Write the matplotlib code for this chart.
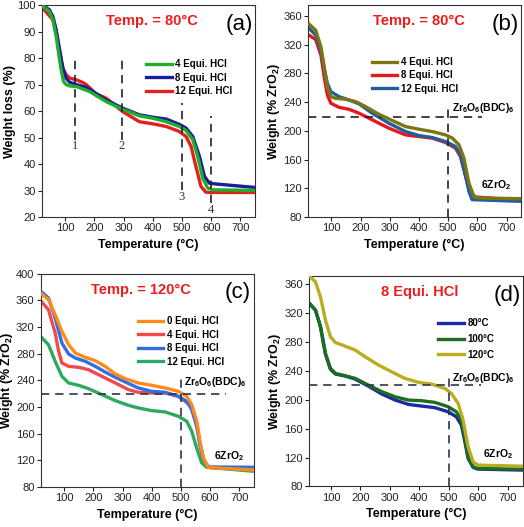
import matplotlib
matplotlib.use("Agg")
import matplotlib.pyplot as plt

plt.rcParams["font.family"] = ["Liberation Sans", "DejaVu Sans"]
plt.rcParams["mathtext.fontset"] = "custom"
plt.rcParams["mathtext.rm"] = "Liberation Sans"
plt.rcParams["mathtext.bf"] = "Liberation Sans:bold"

# ---- panel (a): weight loss, 80 C ----
a4_T = [22, 46, 58, 69, 81, 86, 94, 103, 115, 138, 183, 240, 297, 354, 400, 446,
        491, 514, 537, 554, 571, 588, 605, 750]
a4_w = [99.8, 97.5, 94.4, 88, 79, 75.5, 71.2, 70, 69.5, 69.3, 67.4, 63.6, 60.7,
        58.2, 57.3, 56, 54.2, 52.7, 49.2, 42.9, 34.7, 31, 30.3, 30.1]
a8_T = [22, 46, 58, 69, 81, 92, 103, 115, 126, 138, 172, 240, 297, 354, 400, 446,
        491, 514, 537, 560, 577, 594, 617, 750]
a8_w = [100, 98.2, 95.6, 90.6, 83, 76, 72.4, 70.9, 70.5, 70, 69, 64.2, 61.1, 58.6,
        57.7, 57, 55, 53.6, 50.4, 42.9, 35.4, 32.8, 32.5, 31.2]
a12_T = [23, 58, 69, 81, 92, 103, 115, 138, 160, 172, 206, 240, 297, 354, 400,
         446, 491, 514, 531, 548, 565, 582, 600, 750]
a12_w = [98.8, 94.4, 89.3, 81.8, 76.2, 73.7, 72.5, 71.8, 70.8, 70, 66.5, 64.9,
         59.8, 56, 55.2, 54.2, 52.3, 50.4, 46.7, 39, 31.6, 29.4, 29.3, 29.3]

# ---- panel (b): weight vs ZrO2, 80 C ----
b4_T = [24, 46, 64, 75, 86, 98, 115, 149, 183, 217, 263, 309, 354, 400, 446, 491,
        514, 537, 554, 571, 588, 605, 750]
b4_w = [348.4, 340, 317, 289, 261.5, 247.6, 245.3, 244, 240.7, 233.8, 223, 214.3,
        206, 202.3, 199, 194.4, 190, 180.6, 162, 127.4, 109, 106.6, 105.7]
b8_T = [24, 46, 64, 75, 86, 98, 126, 160, 195, 240, 297, 354, 400, 446, 491, 525,
        542, 560, 577, 594, 750]
b8_w = [333, 327, 305.4, 275.4, 250, 238.4, 232.8, 230, 224.5, 215.3, 203.7,
        194.4, 192.1, 189.8, 183.8, 176, 164.4, 136.6, 113.5, 108, 103.4]
b12_T = [24, 46, 64, 75, 86, 98, 126, 160, 195, 240, 297, 354, 400, 446, 491, 525,
         542, 560, 571, 582, 750]
b12_w = [342.4, 333.2, 312.4, 287, 266, 254.6, 247.6, 243, 237.5, 224.5, 210.6,
         199, 193.5, 190.7, 185.2, 178.3, 166.7, 136.6, 115.8, 104.3, 102]

# ---- panel (c): weight vs ZrO2, 120 C ----
c0_T = [24, 46, 69, 92, 115, 138, 172, 206, 240, 275, 309, 354, 400, 446, 491, 520,
        537, 554, 565, 577, 594, 617, 750]
c0_w = [369, 361, 338.5, 313.5, 293.5, 281, 274.5, 269.5, 261, 249.5, 242.5, 236,
        232.5, 228.5, 223.5, 216, 203.5, 178.5, 148.5, 123.5, 109.5, 108.5, 105.5]
c4_T = [24, 46, 69, 81, 92, 115, 149, 183, 229, 275, 320, 354, 400, 446, 491, 537,
        554, 565, 577, 594, 750]
c4_w = [357, 346, 311, 283.5, 266, 261, 259.5, 256, 246, 236, 226, 222, 221, 221,
        216, 201, 176, 146, 122.5, 109.5, 106]
c8_T = [24, 46, 69, 92, 115, 138, 172, 206, 240, 275, 309, 354, 400, 446, 491, 520,
        537, 554, 565, 577, 594, 750]
c8_w = [372, 363.5, 333.5, 296, 279.5, 273.5, 268.5, 261, 252.5, 244.5, 237.5,
        228.5, 223.5, 222, 216, 208.5, 196, 171, 143.5, 121, 110, 109.5]
c12_T = [24, 46, 69, 92, 115, 149, 183, 229, 275, 320, 354, 400, 446, 491, 520, 537,
         554, 571, 588, 750]
c12_w = [303.5, 293.5, 268.5, 246, 236, 232.5, 227.5, 218.5, 209.5, 202.5, 198.5,
         194.5, 192.5, 186, 178.5, 163.5, 138.5, 116, 109.5, 103.5]

# ---- panel (d): 8 Equi. HCl at three temperatures ----
d120_T = [27, 47, 64, 81, 98, 115, 149, 182, 216, 261, 306, 351, 397, 442, 487, 509,
          532, 549, 566, 583, 599, 750]
d120_w = [371, 363, 342.5, 310, 287, 279, 274, 268.7, 259.4, 248, 238.7, 229.5, 224,
          221.6, 215.6, 208.7, 195, 171.8, 135, 114, 109.5, 108]
d100_T = [27, 47, 64, 81, 98, 115, 149, 182, 227, 273, 318, 363, 408, 453, 498, 526,
          543, 554, 566, 583, 599, 750]
d100_w = [333, 324, 301, 264, 243.3, 236.4, 233, 229.5, 220.2, 211, 204, 199.5,
          198.6, 196.3, 190.3, 183.3, 171.8, 148.7, 121, 107.2, 105, 104]
d80_w = [333, 324, 301, 263, 242, 235.5, 232.7, 228.5, 218.8, 207.8, 199.5, 193.5,
         191.2, 189, 183.3, 176.4, 165, 144, 118.8, 106.3, 104, 102.6]

LW = 2.4
DASH = (0, (5, 3.5))
YLAB2 = "Weight (% ZrO$_\\mathbf{2}$)"
ZR = "Zr$_\\mathbf{6}$O$_\\mathbf{6}$(BDC)$_\\mathbf{6}$"
ZRO2 = "6ZrO$_\\mathbf{2}$"

fig = plt.figure(figsize=(5.24, 5.27), dpi=100)
axa = fig.add_axes([0.080, 0.588, 0.4065, 0.4023])
axb = fig.add_axes([0.588, 0.588, 0.4065, 0.4023])
axc = fig.add_axes([0.078, 0.076, 0.4065, 0.4047])
axd = fig.add_axes([0.5897, 0.077, 0.408, 0.399])


def style(ax, ylim, yticks, ylabel, title, tag, title_x=0.515):
    ax.set_xlim(20, 750)
    ax.set_ylim(*ylim)
    ax.set_xticks(range(100, 701, 100))
    ax.set_yticks(yticks)
    ax.tick_params(direction="out", length=3, width=0.8, labelsize=8,
                   colors="#222222", pad=1.5)
    for s in ax.spines.values():
        s.set_linewidth(0.8)
        s.set_color("#333333")
    ax.set_xlabel("Temperature (°C)", fontsize=9, fontweight="bold", labelpad=4)
    ax.set_ylabel(ylabel, fontsize=9, fontweight="bold", labelpad=1)
    ax.text(title_x, 0.925, title, transform=ax.transAxes, ha="center",
            va="center", color="#ee1c1c", fontsize=10.5, fontweight="bold")
    ax.text(0.925, 0.91, tag, transform=ax.transAxes, ha="center", va="center",
            fontsize=16)


def legend(ax, x, y, handles=None, labels=None, spacing=0.35):
    if handles is None:
        handles, labels = ax.get_legend_handles_labels()
    ax.legend(handles, labels, loc="upper left", bbox_to_anchor=(x, y),
              frameon=False, handlelength=2.6, handletextpad=0.4,
              labelspacing=spacing, borderpad=0, borderaxespad=0,
              prop={"size": 7, "weight": "bold"})


# (a)
axa.plot(a4_T, a4_w, color="#1fae2a", lw=LW, label="4 Equi. HCl", zorder=3)
axa.plot(a8_T, a8_w, color="#1a1e9c", lw=LW, label="8 Equi. HCl", zorder=2)
axa.plot(a12_T, a12_w, color="#e3201f", lw=LW, label="12 Equi. HCl", zorder=1)
for t, y0, y1, ly, lab in [(135, 49.2, 81.2, 47, "1"), (294, 49.2, 81.2, 47, "2"),
                           (500, 30.3, 63, 27.5, "3"), (600, 25.3, 58, 22.8, "4")]:
    axa.plot([t, t], [y0, y1], color="#222222", lw=1.2, ls=DASH, zorder=4)
    axa.text(t, ly, lab, ha="center", va="center", fontsize=9,
             family=["Liberation Serif"], color="#333333")
style(axa, (20, 100), range(20, 101, 10), "Weight loss (%)", "Temp. = 80°C", "(a)")
legend(axa, 0.49, 0.745)

# (b)
axb.plot(b4_T, b4_w, color="#7d7511", lw=LW, label="4 Equi. HCl", zorder=3)
axb.plot(b8_T, b8_w, color="#e8161e", lw=LW, label="8 Equi. HCl", zorder=1)
axb.plot(b12_T, b12_w, color="#1f5f9c", lw=LW, label="12 Equi. HCl", zorder=2)
axb.plot([20, 616], [220, 220], color="#222222", lw=1.2, ls=DASH)
axb.plot([500, 500], [80, 236], color="#222222", lw=1.2, ls=DASH)
axb.text(512, 232, ZR, fontsize=7.5, fontweight="bold", va="center")
axb.text(611, 125, ZRO2, fontsize=7.5, fontweight="bold", va="center")
style(axb, (80, 375), range(80, 361, 40), YLAB2, "Temp. = 80°C", "(b)", 0.52)
legend(axb, 0.3, 0.755)

# (c)
axc.plot(c0_T, c0_w, color="#ff8a1c", lw=LW, label="0 Equi. HCl", zorder=4)
axc.plot(c4_T, c4_w, color="#f04a4a", lw=LW, label="4 Equi. HCl", zorder=2)
axc.plot(c8_T, c8_w, color="#2f6fe0", lw=LW, label="8 Equi. HCl", zorder=3)
axc.plot(c12_T, c12_w, color="#2fa860", lw=LW, label="12 Equi. HCl", zorder=1)
axc.plot([20, 656], [220, 220], color="#2e3550", lw=1.2, ls=DASH, zorder=5)
axc.plot([500, 500], [80, 243.5], color="#2e3550", lw=1.2, ls=DASH, zorder=5)
axc.text(512, 237, ZR, fontsize=7.5, fontweight="bold", va="center")
axc.text(613, 126, ZRO2, fontsize=7.5, fontweight="bold", va="center")
style(axc, (80, 400), range(80, 401, 40), YLAB2, "Temp. = 120°C", "(c)", 0.47)
legend(axc, 0.455, 0.8)

# (d)
axd.plot(d120_T, d120_w, color="#b9ad22", lw=LW, label="120°C", zorder=3)
axd.plot(d100_T, d100_w, color="#1b6e1f", lw=LW, label="100°C", zorder=2)
axd.plot(d100_T, d80_w, color="#1a2aa0", lw=LW, label="80°C", zorder=1)
axd.plot([25, 611], [220, 220], color="#2e3550", lw=1.2, ls=DASH, zorder=5)
axd.plot([500, 500], [80, 230], color="#2e3550", lw=1.2, ls=DASH, zorder=5)
axd.text(510, 230, ZR, fontsize=7.5, fontweight="bold", va="center")
axd.text(617, 125, ZRO2, fontsize=7.5, fontweight="bold", va="center")
style(axd, (80, 371), range(80, 361, 40), YLAB2, "8 Equi. HCl", "(d)", 0.52)
axd.set_xlim(25, 752)
h, l = axd.get_legend_handles_labels()
legend(axd, 0.605, 0.8, h[::-1], l[::-1], spacing=0.6)

fig.savefig("out.png", dpi=100)
